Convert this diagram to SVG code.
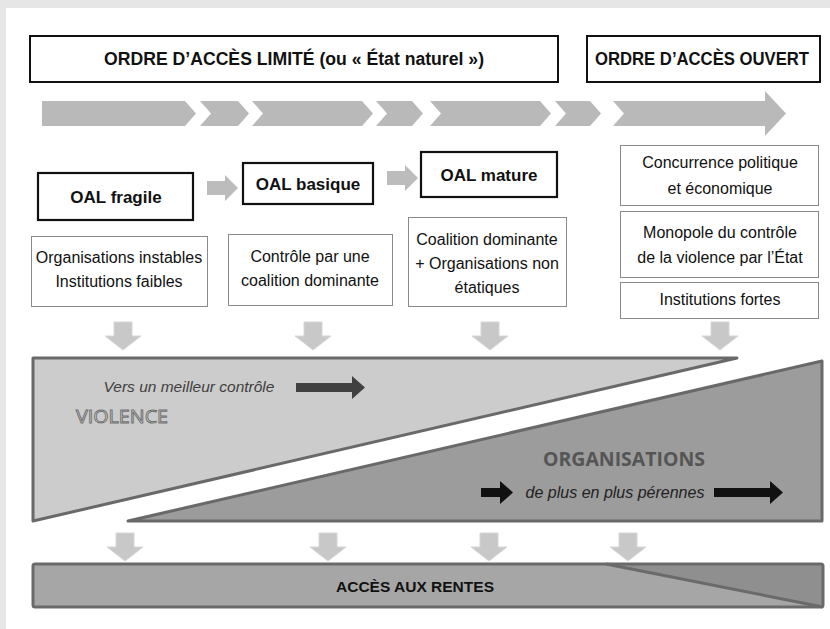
<svg xmlns="http://www.w3.org/2000/svg" width="830" height="629" viewBox="0 0 830 629">
<defs>
<style>
.hdr{fill:#fff;stroke:#111;stroke-width:2}
.oal{fill:#fff;stroke:#111;stroke-width:2.2}
.tb{fill:#fff;stroke:#8a8a8a;stroke-width:1}
.t{font-family:"Liberation Sans",Arial,sans-serif;font-size:16px;fill:#111;text-anchor:middle}
.tb16{font-family:"Liberation Sans",Arial,sans-serif;font-size:17px;font-weight:bold;fill:#111;text-anchor:middle}
.h{font-family:"Liberation Sans",Arial,sans-serif;font-size:18px;font-weight:bold;fill:#111;text-anchor:middle}
.chev{fill:#b9b9b9}
.rarr{fill:#bcbcbc}
.darr{fill:#c8c8c8;stroke:#d6d6d6;stroke-width:1}
.it{font-family:"Liberation Sans",Arial,sans-serif;font-size:15.5px;font-style:italic;text-anchor:middle}
</style>
<path id="down" d="M-9,0 H9 V14 H18 L0,28 L-18,14 H-9 Z"/>
</defs>
<rect x="0" y="0" width="830" height="629" fill="#e6e6e6"/>
<rect x="6" y="8" width="824" height="621" fill="#ffffff"/>

<g id="header-limite">
<rect class="hdr" x="30" y="36" width="528" height="46"/>
<text class="h" x="294" y="65" textLength="380" lengthAdjust="spacingAndGlyphs">ORDRE D’ACCÈS LIMITÉ (ou « État naturel »)</text>
</g>
<g id="header-ouvert">
<rect class="hdr" x="587" y="36" width="233" height="46"/>
<text class="h" x="702" y="65" textLength="214" lengthAdjust="spacingAndGlyphs">ORDRE D’ACCÈS OUVERT</text>
</g>

<g id="timeline">
<path class="chev" d="M42,101 H185 L196,113.5 L185,126 H42 Z"/>
<path class="chev" d="M200,101 H238 L249,113.5 L238,126 H200 L211,113.5 Z"/>
<path class="chev" d="M252,101 H362 L373,113.5 L362,126 H252 L263,113.5 Z"/>
<path class="chev" d="M376,101 H412 L423,113.5 L412,126 H376 L387,113.5 Z"/>
<path class="chev" d="M430,101 H540 L551,113.5 L540,126 H430 L441,113.5 Z"/>
<path class="chev" d="M555,101 H590 L601,113.5 L590,126 H555 L566,113.5 Z"/>
<path class="chev" d="M613,101 H765 V91 L786,113.5 L765,136 V126 H613 L624,113.5 Z"/>
</g>

<g id="oal-fragile">
<rect class="oal" x="38" y="173" width="155" height="47"/>
<text class="tb16" x="116" y="203">OAL fragile</text>
</g>
<g id="oal-basique">
<rect class="oal" x="243" y="163" width="130" height="41"/>
<text class="tb16" x="308" y="190">OAL basique</text>
</g>
<g id="oal-mature">
<rect class="oal" x="421" y="152" width="136" height="45"/>
<text class="tb16" x="489" y="181">OAL mature</text>
</g>

<g id="box-fragile">
<rect class="tb" x="31.5" y="236.5" width="176" height="70"/>
<text class="t" x="119" y="263">Organisations instables</text>
<text class="t" x="119" y="287">Institutions faibles</text>
</g>
<g id="box-basique">
<rect class="tb" x="228.5" y="234.5" width="164" height="71"/>
<text class="t" x="310" y="262">Contrôle par une</text>
<text class="t" x="310" y="286">coalition dominante</text>
</g>
<g id="box-mature">
<rect class="tb" x="408.5" y="217.5" width="158" height="89"/>
<text class="t" x="487" y="245">Coalition dominante</text>
<text class="t" x="487" y="269">+ Organisations non</text>
<text class="t" x="487" y="293">étatiques</text>
</g>
<g id="box-concurrence">
<rect class="tb" x="620.5" y="145.5" width="198" height="60"/>
<text class="t" x="720" y="168">Concurrence politique</text>
<text class="t" x="720" y="194">et économique</text>
</g>
<g id="box-monopole">
<rect class="tb" x="620.5" y="211.5" width="198" height="66"/>
<text class="t" x="720" y="238">Monopole du contrôle</text>
<text class="t" x="720" y="263">de la violence par l’État</text>
</g>
<g id="box-institutions">
<rect class="tb" x="620.5" y="282.5" width="198" height="36"/>
<text class="t" x="720" y="305">Institutions fortes</text>
</g>

<g id="violence">
<path d="M33,358 L737,358 L33,521 Z" fill="#cccccc" stroke="#696969" stroke-width="3" stroke-linejoin="round"/>
<text class="it" x="189" y="392" fill="#404040">Vers un meilleur contrôle</text>
<path d="M296,383 H352 V376 L365,387.5 L352,399 V392 H296 Z" fill="#404040"/>
<text x="76" y="423" font-family="'Open Sans',sans-serif" font-size="19" fill="#f0f0f0" stroke="#707070" stroke-width="1" textLength="92" lengthAdjust="spacingAndGlyphs">VIOLENCE</text>
</g>

<g id="organisations">
<path d="M128,521 L822,361 L822,521 Z" fill="#9c9c9c" stroke="#696969" stroke-width="3" stroke-linejoin="round"/>
<text x="624" y="466" font-family="'Open Sans',sans-serif" font-size="20" font-weight="bold" fill="#555555" text-anchor="middle" textLength="162" lengthAdjust="spacingAndGlyphs">ORGANISATIONS</text>
<text class="it" x="615" y="498" fill="#222222" style="font-size:16px">de plus en plus pérennes</text>
<path d="M481,488 H500 V481 L513,492.5 L500,504 V497 H481 Z" fill="#111111"/>
<path d="M714,488 H770 V481 L783,492.5 L770,504 V497 H714 Z" fill="#111111"/>
</g>

<g id="rentes">
<rect x="33" y="564" width="790" height="43" rx="2" fill="#a6a6a6"/>
<path d="M606,564 L823,564 L823,607 Z" fill="#8f8f8f"/>
<path d="M606,564 L823,607" stroke="#6a6a6a" stroke-width="3" fill="none"/>
<rect x="33" y="564" width="790" height="43" rx="2" fill="none" stroke="#6a6a6a" stroke-width="3"/>
<text x="415" y="592" font-family="'Liberation Sans',Arial,sans-serif" font-size="15" font-weight="bold" fill="#111" text-anchor="middle" textLength="158" lengthAdjust="spacingAndGlyphs">ACCÈS AUX RENTES</text>
</g>

<g id="connectors">
<path class="rarr" d="M207,181 H225 V175 L238,188 L225,201 V195 H207 Z"/>
<path class="rarr" d="M387,171 H405 V165 L418,178 L405,191 V185 H387 Z"/>
<use href="#down" class="darr" x="123" y="322"/>
<use href="#down" class="darr" x="313" y="322"/>
<use href="#down" class="darr" x="490" y="322"/>
<use href="#down" class="darr" x="720" y="322"/>
<use href="#down" class="darr" x="125" y="533"/>
<use href="#down" class="darr" x="328" y="533"/>
<use href="#down" class="darr" x="489" y="533"/>
<use href="#down" class="darr" x="628" y="533"/>
</g>
</svg>
